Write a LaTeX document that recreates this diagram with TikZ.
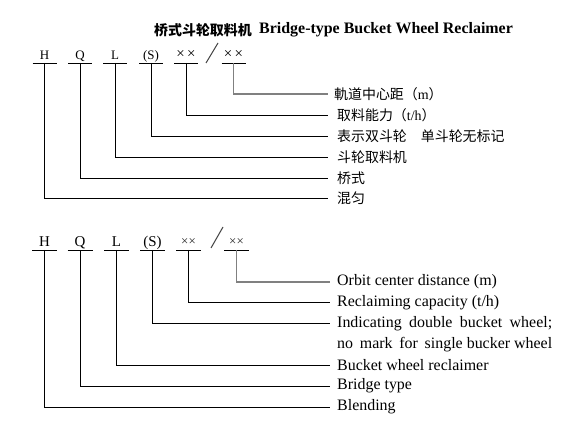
\documentclass[tikz,border=0pt]{standalone}
\usepackage{fontspec}
\setmainfont{Liberation Serif}
\newfontfamily\cjk{Noto Sans CJK SC}
\usetikzlibrary{calc}
\begin{document}
\begin{tikzpicture}[x=1bp,y=-1bp,
  codeA/.style={font=\fontsize{13}{13}\selectfont, inner sep=0, anchor=base},
  codeB/.style={font=\fontsize{15}{16}\selectfont, inner sep=0, anchor=base},
  crossA/.style={font=\fontsize{15}{16}\selectfont, inner sep=0, anchor=base},
  crossB/.style={font=\fontsize{13}{14}\selectfont, inner sep=0, anchor=base, text=black!85},
  cn/.style={font=\cjk\fontsize{14}{15}\selectfont, inner sep=0, anchor=west},
  en/.style={font=\fontsize{16}{17}\selectfont, inner sep=0, anchor=west},
  lead/.style={line width=0.9bp, draw=black},
  greylead/.style={line width=1.4bp, draw=black!50},
  uline/.style={line width=0.9bp}]
\useasboundingbox (0,0) rectangle (580,440);

% title
\node[inner sep=0, anchor=west, font=\cjk\bfseries\fontsize{14}{16}\selectfont] (tcn) at (154,30) {桥式斗轮取料机};
\node[inner sep=0, anchor=west, font=\bfseries\fontsize{16}{17}\selectfont] (ten) at (259,30) {Bridge-type Bucket Wheel Reclaimer};

% ---------- top code ----------
\node[codeA] (a1) at (44.5,60) {H};
\node[codeA] (a2) at (80,60) {Q};
\node[codeA] (a3) at (115,60) {L};
\node[codeA] (a4) at (151,60) {(S)};
\node[crossA] (a5) at (186,59) {×\,×};
\node[crossA] (a6) at (233.5,59) {×\,×};
\foreach \i/\x in {1/44.5,2/80,3/115,4/151,5/186,6/233.5}{
  \coordinate (ua\i) at (\x,63);
  \draw[uline] ($(ua\i)+(-12,0)$) -- ($(ua\i)+(12,0)$);
}
\draw[line width=1bp, draw=black!75] (206,63) -- (218,43);

% top texts
\node[cn] (c1) at (334,94) {軌道中心距（{\rmfamily m}）};
\node[cn] (c2) at (337,115) {取料能力（{\rmfamily t/h}）};
\node[cn] (c3) at (337,136) {表示双斗轮　单斗轮无标记};
\node[cn] (c4) at (337,157) {斗轮取料机};
\node[cn] (c5) at (337,178) {桥式};
\node[cn] (c6) at (337,198) {混匀};
\coordinate (endA) at (328,0);

\draw[greylead] (ua6) |- (c1.west -| endA);
\draw[lead] (ua5) |- (c2.west -| endA);
\draw[lead] (ua4) |- (c3.west -| endA);
\draw[lead] (ua3) |- (c4.west -| endA);
\draw[lead] (ua2) |- (c5.west -| endA);
\draw[lead] (ua1) |- (c6.west -| endA);

% ---------- bottom code ----------
\node[codeB] (b1) at (44.5,246.7) {H};
\node[codeB] (b2) at (80,246.7) {Q};
\node[codeB] (b3) at (116.5,246.7) {L};
\node[codeB] (b4) at (152.5,246.7) {(S)};
\node[crossB] (b5) at (188.5,246) {××};
\node[crossB] (b6) at (236.5,246) {××};
\foreach \i/\x in {1/44.5,2/80,3/116.5,4/152.5,5/188.5,6/236.5}{
  \coordinate (ub\i) at (\x,250);
  \draw[uline] ($(ub\i)+(-12.5,0)$) -- ($(ub\i)+(12.5,0)$);
}
\draw[line width=1bp, draw=black!75] (211,248) -- (223,227);

% bottom texts
\node[en] (e1) at (337,282) {Orbit center distance (m)};
\node[en] (e2) at (337,302.5) {Reclaiming capacity (t/h)};
\node[en] (e3) at (337,323.5) {\makebox[215bp][s]{Indicating\hfill double\hfill bucket\hfill wheel;}};
\node[en] (e3b) at (337,344.5) {\makebox[215bp][s]{no\hfill mark\hfill for\hfill single bucker wheel}};
\node[en] (e4) at (337,365.5) {Bucket wheel reclaimer};
\node[en] (e5) at (337,386) {Bridge type};
\node[en] (e6) at (337,407) {Blending};
\coordinate (endB) at (330,0);

\draw[greylead] (ub6) |- (e1.west -| endB);
\draw[lead] (ub5) |- (e2.west -| endB);
\draw[lead] (ub4) |- (e3.west -| endB);
\draw[lead] (ub3) |- (e4.west -| endB);
\draw[lead] (ub2) |- (e5.west -| endB);
\draw[lead] (ub1) |- (e6.west -| endB);
\end{tikzpicture}
\end{document}
